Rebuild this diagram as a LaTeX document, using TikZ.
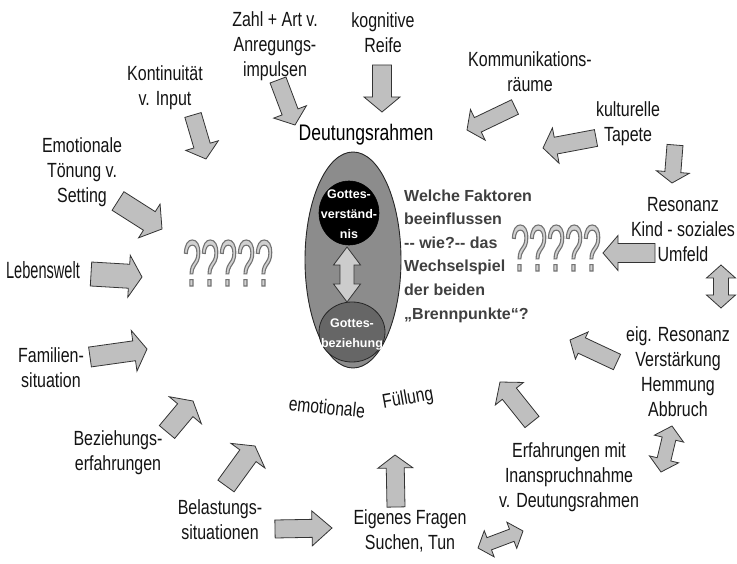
\documentclass[tikz,border=0pt]{standalone}
\usepackage{fontspec}
\setmainfont{Liberation Sans}[FakeStretch=0.78]
\newfontfamily\plainsans{Liberation Sans}
\newfontfamily\lebfont{Liberation Sans}[FakeStretch=0.62]
\newfontfamily\qfont{Liberation Sans}[FakeStretch=0.49]
\usetikzlibrary{calc,shapes.geometric}
\tikzset{
  lbl/.style={align=center, font=\fontsize{20.5}{25}\selectfont, text=black!92, inner sep=0pt},
  blockarrow/.style={draw=black!80, fill=black!25, line width=0.8pt, line join=miter},
  ctext/.style={align=center, text=white, font=\plainsans\bfseries\fontsize{12.5}{20}\selectfont, inner sep=0pt},
  qmarks/.style={font=\qfont\fontsize{66}{66}\selectfont, text=black!18, inner sep=0pt},
}
\newcommand\outlinetext[1]{\special{pdf:literal direct 2 Tr 1.1 w 0.45 G}#1\special{pdf:literal direct 0 Tr 0.4 w}}
% single block arrow: tail, tip, shaft width, head width, head length
\newcommand\blockarr[5]{%
  \coordinate (hb) at ($(#2)!#5pt!(#1)$);
  \draw[blockarrow] ($(#1)!{0.5*#3pt}!90:(#2)$) -- ($(hb)!{0.5*#3pt}!90:(#2)$)
    -- ($(hb)!{0.5*#4pt}!90:(#2)$) -- (#2) -- ($(hb)!{0.5*#4pt}!-90:(#2)$)
    -- ($(hb)!{0.5*#3pt}!-90:(#2)$) -- ($(#1)!{0.5*#3pt}!-90:(#2)$) -- cycle;
}
% double block arrow: end1, end2, shaft width, head width, head length
\newcommand\dblarr[6][]{%
  \coordinate (ha) at ($(#2)!#6pt!(#3)$);
  \coordinate (hb) at ($(#3)!#6pt!(#2)$);
  \draw[blockarrow,#1] (#2) -- ($(ha)!{0.5*#5pt}!90:(#3)$) -- ($(ha)!{0.5*#4pt}!90:(#3)$)
    -- ($(hb)!{0.5*#4pt}!90:(#3)$) -- ($(hb)!{0.5*#5pt}!90:(#3)$) -- (#3)
    -- ($(hb)!{0.5*#5pt}!-90:(#3)$) -- ($(hb)!{0.5*#4pt}!-90:(#3)$)
    -- ($(ha)!{0.5*#4pt}!-90:(#3)$) -- ($(ha)!{0.5*#5pt}!-90:(#3)$) -- cycle;
}
\begin{document}
\begin{tikzpicture}[x=1pt,y=-1pt]
\useasboundingbox[fill=white] (0,0) rectangle (737,564);

% ---------- central ellipse ----------
\node[ellipse, draw=black!85, line width=0.9pt, fill=black!45, minimum width=96pt, minimum height=216pt, inner sep=0pt] (focus) at (353,260) {};
\node[ellipse, fill=black, draw=black, line width=0.6pt, minimum width=60pt, minimum height=64pt, inner sep=0pt] (gv) at (349,213) {};
\node[ellipse, fill=black!60, draw=black!85, line width=0.8pt, minimum width=66pt, minimum height=60pt, inner sep=0pt] (gb) at (352,332) {};
\node[ctext] (gvt) at (349,214) {Gottes-\\verständ-\\nis};
\node[ctext] (gbt) at (352,334) {Gottes-\\beziehung};
\coordinate (d1a) at (347,247);
\coordinate (d1b) at (347,302);
\dblarr[fill=black!20]{d1a}{d1b}{14}{27}{18}

% ---------- labels ----------
\node[lbl] (zahl) at (275,46) {Zahl + Art v.\\Anregungs-\\impulsen};
\node[lbl] (kogn) at (383,33) {kognitive\\Reife};
\node[lbl] (kont) at (165,88) {Kontinuität\\v. Input};
\node[lbl] (emot) at (82,172) {Emotionale\\Tönung v.\\Setting};
\node[lbl, font=\lebfont\fontsize{23.5}{25}\selectfont] (leb) at (43,270) {Lebenswelt};
\node[lbl] (fam) at (51,368) {Familien-\\situation};
\node[lbl] (bez) at (118,453) {Beziehungs-\\erfahrungen};
\node[lbl] (bel) at (220,520) {Belastungs-\\situationen};
\node[lbl] (eig) at (410,531) {Eigenes Fragen\\Suchen, Tun};
\node[lbl] (erf) at (569,477) {Erfahrungen mit\\Inanspruchnahme\\v. Deutungsrahmen};
\node[lbl] (eres) at (678,372) {eig. Resonanz\\Verstärkung\\Hemmung\\Abbruch};
\node[lbl] (res) at (683,230) {Resonanz\\Kind - soziales\\Umfeld};
\node[lbl] (kult) at (628,124) {kulturelle\\Tapete};
\node[lbl] (komm) at (530,72) {Kommunikations-\\räume};
\node[lbl, font=\fontsize{22.5}{25}\selectfont, text=black] (deut) at (366,135) {Deutungsrahmen};
\node[anchor=west, align=left, inner sep=0pt, text=black!75, font=\plainsans\bfseries\fontsize{16}{23.6}\selectfont] (frage) at (404,256)
  {Welche Faktoren\\beeinflussen\\-- wie?-- das\\Wechselspiel\\der beiden\\„Brennpunkte“?};
\node[lbl, font=\fontsize{20}{24}\selectfont, rotate=-6] (emo1) at (327,407) {emotionale};
\node[lbl, font=\fontsize{20}{24}\selectfont, rotate=10] (emo2) at (408,399) {Füllung};
\node[qmarks] (q1) at (228,263) {\outlinetext{?????}};
\node[qmarks] (q2) at (556,248) {\outlinetext{?????}};

% ---------- arrows ----------
\coordinate (a1t) at (278,80);  \coordinate (a1h) at (295,125);
\coordinate (a2t) at (382,65);  \coordinate (a2h) at (382,112);
\coordinate (a3t) at (193,115); \coordinate (a3h) at (206,159);
\coordinate (a4t) at (118,201); \coordinate (a4h) at (162,229);
\coordinate (a5t) at (91,274);  \coordinate (a5h) at (142,277);
\coordinate (a6t) at (90,357);  \coordinate (a6h) at (147,349);
\coordinate (a7t) at (167,432); \coordinate (a7h) at (193,401);
\coordinate (a8t) at (226,486); \coordinate (a8h) at (255,446);
\coordinate (a9t) at (275,529); \coordinate (a9h) at (332,528);
\coordinate (a10t) at (396,507); \coordinate (a10h) at (395,455);
\coordinate (a11t) at (532,422); \coordinate (a11h) at (500,382);
\coordinate (a12t) at (617,362); \coordinate (a12h) at (570,340);
\coordinate (a13t) at (655,253); \coordinate (a13h) at (603,253);
\coordinate (a14t) at (675,145); \coordinate (a14h) at (672,183);
\coordinate (a15t) at (596,138); \coordinate (a15h) at (543,148);
\coordinate (a16t) at (515,107); \coordinate (a16h) at (467,130);
\blockarr{a1t}{a1h}{17}{35}{14}
\blockarr{a2t}{a2h}{19}{36}{15}
\blockarr{a3t}{a3h}{17}{34}{14}
\blockarr{a4t}{a4h}{22}{40}{15}
\blockarr{a5t}{a5h}{24}{42}{13}
\blockarr{a6t}{a6h}{20}{41}{13}
\blockarr{a7t}{a7h}{20}{42}{12}
\blockarr{a8t}{a8h}{20}{42}{12}
\blockarr{a9t}{a9h}{18}{35}{20}
\blockarr{a10t}{a10h}{18}{35}{13}
\blockarr{a11t}{a11h}{18}{36}{15}
\blockarr{a12t}{a12h}{17}{30}{13}
\blockarr{a13t}{a13h}{19}{35}{15}
\blockarr{a14t}{a14h}{16}{33}{11}
\blockarr{a15t}{a15h}{17}{36}{13}
\blockarr{a16t}{a16h}{16}{34}{12}

\coordinate (d2a) at (721,265); \coordinate (d2b) at (721,308);
\coordinate (d3a) at (672,426); \coordinate (d3b) at (661,472);
\coordinate (d4a) at (478,548); \coordinate (d4b) at (523,531);
\dblarr{d2a}{d2b}{15}{29}{13}
\dblarr{d3a}{d3b}{14}{30}{13}
\dblarr{d4a}{d4b}{13}{28}{12}
\end{tikzpicture}
\end{document}
